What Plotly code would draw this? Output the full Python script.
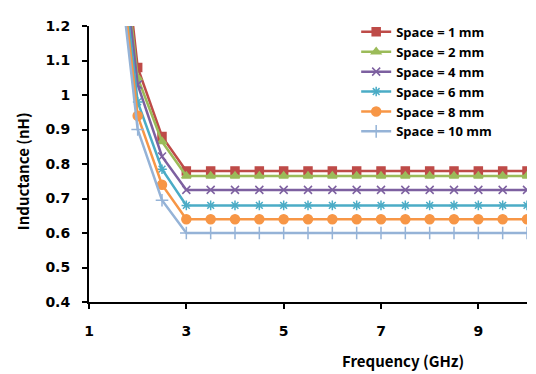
import plotly.graph_objects as go

freq = [1.5, 2, 2.5, 3, 3.5, 4, 4.5, 5, 5.5, 6, 6.5, 7, 7.5, 8, 8.5, 9, 9.5, 10]

space_1mm = [1.72, 1.08, 0.88] + [0.78] * 15
space_2mm = [1.68, 1.05, 0.865] + [0.765] * 15
space_4mm = [1.64, 1.03, 0.822] + [0.725] * 15
space_6mm = [1.60, 0.98, 0.785] + [0.68] * 15
space_8mm = [1.56, 0.94, 0.74] + [0.64] * 15
space_10mm = [1.52, 0.90, 0.695] + [0.60] * 15

series_names = ["Space = 1 mm", "Space = 2 mm", "Space = 4 mm",
                "Space = 6 mm", "Space = 8 mm", "Space = 10 mm"]
series_values = [space_1mm, space_2mm, space_4mm, space_6mm, space_8mm, space_10mm]
colors = ["#BE4B48", "#9BBB59", "#7D60A0", "#4BACC6", "#F79646", "#95B3D7"]
symbols = ["square", "triangle-up", "x-thin-open", "asterisk-open", "circle", "cross-thin-open"]
sizes = [8, 8, 8, 8, 9, 9]

x_ticks = [1, 3, 5, 7, 9]
y_ticks = [0.4, 0.5, 0.6, 0.7, 0.8, 0.9, 1.0, 1.1, 1.2]
y_labels = ["0.4", "0.5", "0.6", "0.7", "0.8", "0.9", "1", "1.1", "1.2"]

FONT = "Noto Sans CJK KR"
TICKFONT = "DejaVu Sans"
LEGFONT = "Open Sans"

fig = go.Figure()
for name, vals, c, s, sz in zip(series_names, series_values, colors, symbols, sizes):
    fig.add_trace(go.Scatter(
        x=freq, y=vals, name=name, mode="lines+markers",
        line=dict(color=c, width=2.5),
        marker=dict(symbol=s, size=sz, color=c, line=dict(color=c, width=1.5)),
    ))

# page has an 8px body margin, so the figure is shrunk by 8px and margins shifted
fig.update_layout(
    width=528, height=366,
    margin=dict(l=81, r=9, t=9, b=72),
    paper_bgcolor="white", plot_bgcolor="white",
    font=dict(family=FONT, color="black"),
    showlegend=True,
    legend=dict(
        x=0.610, y=1.033, xanchor="left", yanchor="top",
        bgcolor="rgba(0,0,0,0)", itemwidth=30,
        font=dict(family=LEGFONT, size=13, color="black", weight="bold"),
        tracegroupgap=0,
    ),
    xaxis=dict(
        range=[1, 10], tickvals=x_ticks, showgrid=False, zeroline=False,
        showline=True, linecolor="black", linewidth=2,
        ticks="outside", ticklen=5, tickwidth=2, tickcolor="black",
        tickfont=dict(family=TICKFONT, size=14, color="black", weight="bold"),
        ticklabelstandoff=10,
    ),
    yaxis=dict(
        range=[0.4, 1.2], tickvals=y_ticks, ticktext=y_labels,
        showgrid=False, zeroline=False,
        showline=True, linecolor="black", linewidth=2,
        ticks="outside", ticklen=5, tickwidth=2, tickcolor="black",
        tickfont=dict(family=TICKFONT, size=14, color="black", weight="bold"),
        ticklabelstandoff=9,
    ),
    annotations=[
        dict(text="Frequency (GHz)", xref="paper", yref="paper",
             x=(403 - 89) / 438, y=-(362 - 302) / 285, xanchor="center", yanchor="middle",
             showarrow=False, font=dict(family=FONT, size=15, color="black", weight="bold")),
        dict(text="Inductance (nH)", xref="paper", yref="paper",
             x=-(89 - 22) / 438, y=(302 - 167) / 285, xanchor="center", yanchor="middle",
             textangle=-90, showarrow=False,
             font=dict(family=FONT, size=15, color="black", weight="bold")),
    ],
)

fig.write_html("out.html")
